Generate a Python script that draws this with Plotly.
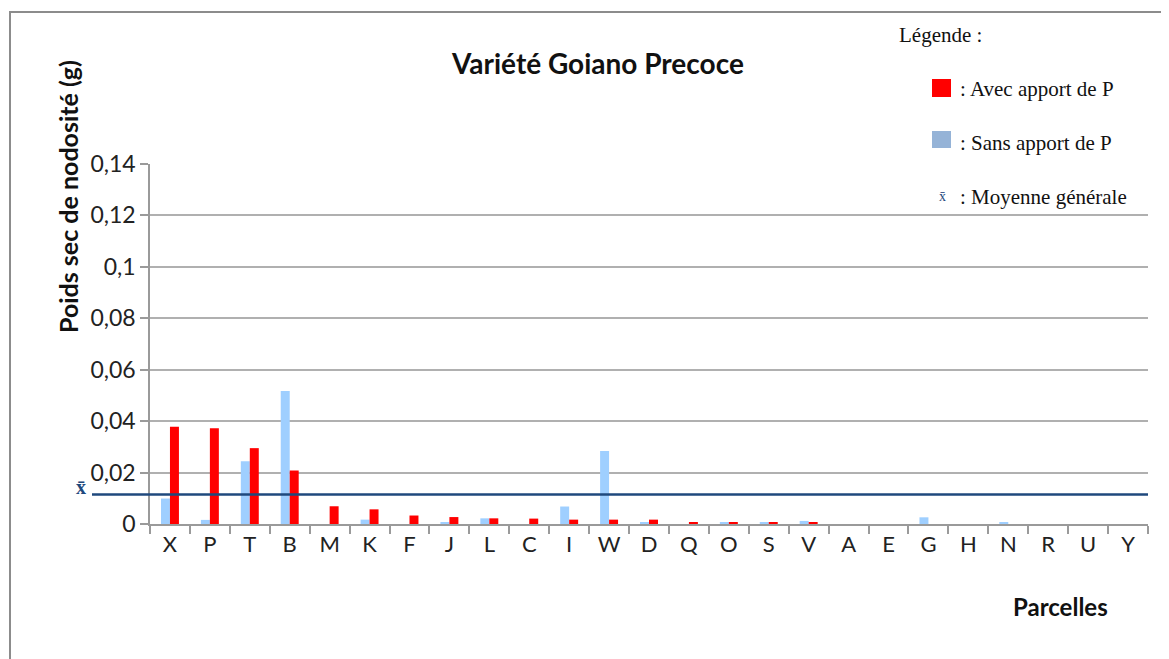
import plotly.graph_objects as go

parcelles = ["X", "P", "T", "B", "M", "K", "F", "J", "L", "C", "I", "W", "D",
             "Q", "O", "S", "V", "A", "E", "G", "H", "N", "R", "U", "Y"]
sans_apport = [0.0099, 0.0016, 0.0244, 0.0517, 0.0, 0.0017, 0.0, 0.0007, 0.0022, 0.0,
               0.0068, 0.0284, 0.0005, 0.0, 0.0005, 0.0005, 0.0012, 0.0, 0.0, 0.0026,
               0.0, 0.0007, 0.0, 0.0, 0.0]
avec_apport = [0.0378, 0.0372, 0.0295, 0.0208, 0.0069, 0.0057, 0.0033, 0.0027, 0.0022, 0.0021,
               0.0017, 0.0017, 0.0017, 0.0007, 0.0007, 0.0007, 0.0007, 0.0, 0.0, 0.0,
               0.0, 0.0, 0.0, 0.0, 0.0]
moyenne_generale = 0.0115
y_ticks = [0, 0.02, 0.04, 0.06, 0.08, 0.1, 0.12, 0.14]
y_tick_labels = ["0", "0,02", "0,04", "0,06", "0,08", "0,1", "0,12", "0,14"]

OFF = 8  # default page body margin
W, H = 1169 - OFF, 659 - OFF
L, R, T, B = 150, 1148, 164, 524  # plot area in screen pixels


def px(x):
    return (x - L) / (R - L)


def py(y):
    return (B - y) / (B - T)


fig = go.Figure()
fig.add_trace(go.Bar(x=parcelles, y=sans_apport, name="Sans apport de P",
                     marker=dict(color="#9FCFFF", line=dict(width=0))))
fig.add_trace(go.Bar(x=parcelles, y=avec_apport, name="Avec apport de P",
                     marker=dict(color="#FF0000", line=dict(width=0))))

sans_font = "Lato, Open Sans, sans-serif"
serif = "Liberation Serif, Times New Roman, serif"

fig.update_layout(
    width=W, height=H,
    margin=dict(l=L - OFF, r=1169 - R, t=T - OFF, b=659 - B),
    paper_bgcolor="white", plot_bgcolor="white",
    showlegend=False,
    barmode="group", bargap=0.55, bargroupgap=0,
    xaxis=dict(type="category", showline=True, linecolor="#9a9a9a", linewidth=1.5,
               ticks="outside", tickson="boundaries", ticklen=8, tickcolor="#9a9a9a",
               tickwidth=1.5, showgrid=False,
               tickfont=dict(family=sans_font, size=22, color="#222")),
    yaxis=dict(range=[0, 0.14], tickvals=y_ticks, ticktext=y_tick_labels,
               showline=True, linecolor="#9a9a9a", linewidth=1.5,
               ticks="outside", ticklen=8, tickcolor="#9a9a9a", tickwidth=1.5,
               showgrid=True, gridcolor="#b0b0b0", gridwidth=1.5, zeroline=False,
               tickfont=dict(family=sans_font, size=23, color="#222")),
)

# mean line
fig.add_shape(type="line", xref="paper", yref="y", x0=px(92), x1=1,
              y0=moyenne_generale, y1=moyenne_generale,
              line=dict(color="#1F497D", width=2.5))

# outer frame
fig.add_shape(type="rect", xref="paper", yref="paper",
              x0=px(10), x1=px(1166), y0=py(700), y1=py(12),
              line=dict(color="#8c8c8c", width=2), fillcolor="rgba(0,0,0,0)", layer="below")

annotations = [
    dict(x=px(597), y=py(63), text="<b>Variété Goiano Precoce</b>",
         font=dict(family=sans_font, size=28, color="#111")),
    dict(x=px(68), y=py(197), text="<b>Poids sec de nodosité (g)</b>", textangle=-90,
         font=dict(family=sans_font, size=25, color="#111")),
    dict(x=px(1060), y=py(606), text="<b>Parcelles</b>",
         font=dict(family=sans_font, size=24, color="#111")),
    dict(x=px(81), y=py(487), text="<b>x̄</b>",
         font=dict(family=serif, size=20, color="#1F497D")),
    dict(x=px(897), y=py(35), text="Légende :", xanchor="left",
         font=dict(family=serif, size=21, color="#111")),
    dict(x=px(958), y=py(89), text=": Avec apport de P", xanchor="left",
         font=dict(family=serif, size=21, color="#111")),
    dict(x=px(958), y=py(143), text=": Sans apport de P", xanchor="left",
         font=dict(family=serif, size=21, color="#111")),
    dict(x=px(958), y=py(197), text=": Moyenne générale", xanchor="left",
         font=dict(family=serif, size=21, color="#111")),
    dict(x=px(942), y=py(196), text="x̄",
         font=dict(family=serif, size=14, color="#1F497D")),
]
for a in annotations:
    a.setdefault("xref", "paper")
    a.setdefault("yref", "paper")
    a.setdefault("showarrow", False)
    a.setdefault("xanchor", "center")
    a.setdefault("yanchor", "middle")
    fig.add_annotation(**a)

# legend swatches
fig.add_shape(type="rect", xref="paper", yref="paper", x0=px(932), x1=px(951),
              y0=py(97), y1=py(79), fillcolor="#FF0000", line=dict(width=0))
fig.add_shape(type="rect", xref="paper", yref="paper", x0=px(932), x1=px(951),
              y0=py(148), y1=py(131), fillcolor="#95B3D7", line=dict(width=0))

fig.write_html("out.html")
